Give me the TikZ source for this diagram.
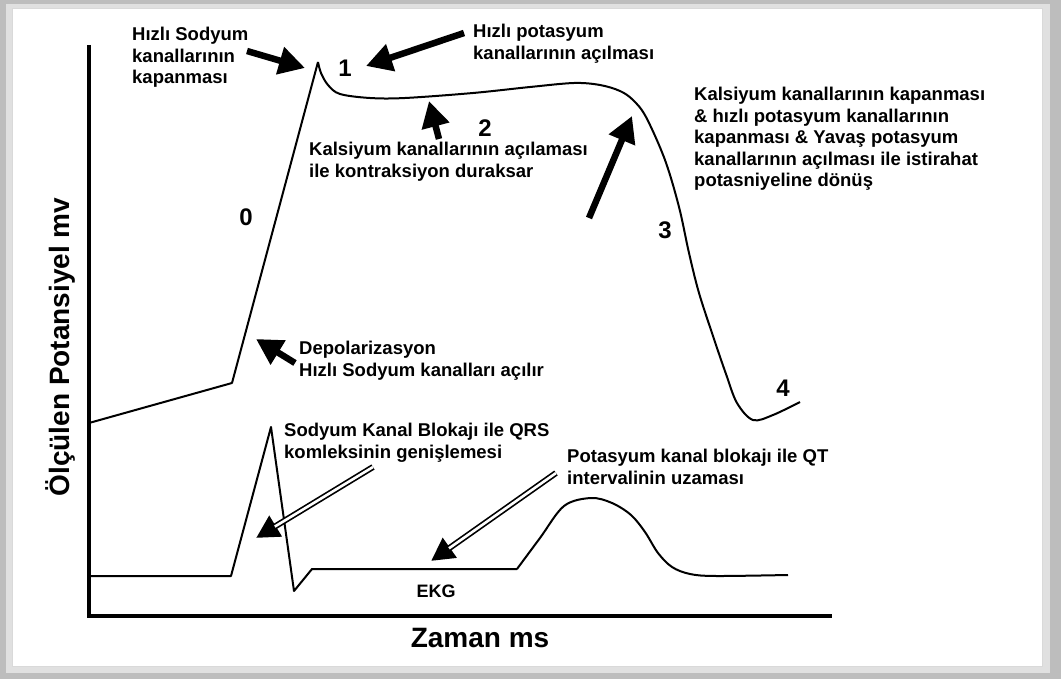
\documentclass[tikz,border=0pt]{standalone}
\usepackage{fontspec}
\setmainfont{Liberation Sans}
\usetikzlibrary{arrows.meta,calc}
\begin{document}
\begin{tikzpicture}[x=1pt,y=-1pt,
  lbl/.style={anchor=north west, inner sep=0pt, align=left, font=\fontsize{18.5}{21.5}\selectfont\bfseries},
  num/.style={inner sep=0pt, font=\fontsize{24}{24}\selectfont\bfseries},
  big/.style={inner sep=0pt, font=\fontsize{28}{28}\selectfont\bfseries},
  curve/.style={line width=2pt, line join=round},
  axis/.style={line width=3.5pt, line join=miter},
  fat/.style={line width=6.5pt, -{Triangle[length=26pt,width=27pt]}},
  dbl/.style={line width=6pt, -{Triangle[length=23pt,width=23pt]}},
  dblin/.style={line width=2.6pt, white, shorten >=22pt},
]
% frame
\fill[black!26] (0,0) rectangle (1061,679);
\fill[black!12] (6,4) rectangle (1050,673);
\fill[white] (12,8) rectangle (1042,666);
\draw[black!15, line width=0.8pt] (12,8) rectangle (1042,666);
\useasboundingbox (0,0) rectangle (1061,679);

% axes
\coordinate (yt) at (89,45);
\coordinate (o) at (89,616);
\coordinate (xe) at (832,616);
\draw[axis] (yt) -- (o) -- (xe);
\node[big, rotate=90] (ylab) at (60,347) {Ölçülen Potansiyel mv};
\node[big] (xlab) at (480,638) {Zaman ms};

% action potential
\coordinate (ap0) at (89,423);
\coordinate (apk) at (232,383);
\coordinate (peak) at (318,62);
\draw[curve] (ap0) -- (apk) -- (peak)
  plot[smooth, tension=0.55] coordinates {(318,62) (321,73) (328,85) (340,94) (370,98) (405,98) (473,93) (530,87) (574,83) (600,85) (620,91) (633,100) (646,117) (665,160) (679,207) (689,253) (699,293) (714,339) (726,374) (737,403) (753,420) (773,415) (800,402)};

% ECG
\draw[curve] (89,576) -- (231,576) -- (271,427) -- (294,591) -- (312,569) -- (517,569)
  plot[smooth, tension=0.55] coordinates {(517,569) (540,538) (564,506) (591,498) (612,503) (631,515) (645,532) (658,553) (672,567) (690,574) (716,576) (788,575)};

% numbers
\node[num] (n0) at (246,217) {0};
\node[num] (n1) at (345,68) {1};
\node[num] (n2) at (485,128) {2};
\node[num] (n3) at (665,230) {3};
\node[num] (n4) at (783,388) {4};

% labels
\node[lbl] (la) at (132,27) {Hızlı Sodyum\\kanallarının\\kapanması};
\node[lbl] (lb) at (473,24) {Hızlı potasyum\\kanallarının açılması};
\node[lbl] (lc) at (309,142) {Kalsiyum kanallarının açılaması\\ile kontraksiyon duraksar};
\node[lbl] (ld) at (694,87) {Kalsiyum kanallarının kapanması\\\& hızlı potasyum kanallarının\\kapanması \& Yavaş potasyum\\kanallarının açılması ile istirahat\\potasniyeline dönüş};
\node[lbl] (le) at (299,341) {Depolarizasyon\\Hızlı Sodyum kanalları açılır};
\node[lbl] (lf) at (284,423) {Sodyum Kanal Blokajı ile QRS\\komleksinin genişlemesi};
\node[lbl] (lg) at (567,449) {Potasyum kanal blokajı ile QT\\intervalinin uzaması};
\node[inner sep=0pt, font=\fontsize{18}{18}\selectfont\bfseries] (ekg) at (436,591) {EKG};

% thick arrows
\coordinate (a1t) at (247,51);  \coordinate (a1h) at (305,68);
\coordinate (a2t) at (464,33);  \coordinate (a2h) at (366,66);
\coordinate (a3t) at (439,139); \coordinate (a3h) at (429,101);
\coordinate (a4t) at (589,218); \coordinate (a4h) at (632,116);
\coordinate (a5t) at (295,363); \coordinate (a5h) at (256,339);
\draw[fat] (a1t) -- (a1h);
\draw[fat] (a2t) -- (a2h);
\draw[fat] (a3t) -- (a3h);
\draw[fat] (a4t) -- (a4h);
\draw[fat] (a5t) -- (a5h);

% double arrows
\coordinate (d1t) at (373,467); \coordinate (d1h) at (256,538);
\coordinate (d2t) at (556,473); \coordinate (d2h) at (431,561);
\draw[dbl] (d1t) -- (d1h);
\draw[dblin] (d1t) -- (d1h);
\draw[dbl] (d2t) -- (d2h);
\draw[dblin] (d2t) -- (d2h);
\end{tikzpicture}
\end{document}
